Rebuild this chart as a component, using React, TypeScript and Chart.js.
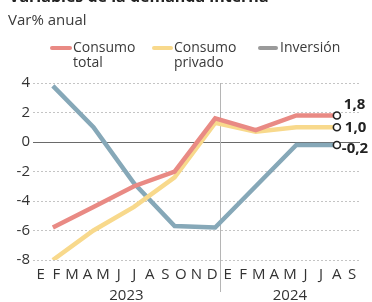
import React, { useEffect, useRef } from "react";
import { Chart, registerables } from "chart.js";

Chart.register(...registerables);

const titleText = "Variables de la demanda interna";
const subtitleText = "Var% anual";
const months = ["E", "F", "M", "A", "M", "J", "J", "A", "S", "O", "N", "D", "E", "F", "M", "A", "M", "J", "J", "A", "S"];
const years = ["2023", "2024"];
const yearSpans = [[0, 11], [12, 20]];
const quarterIndex = [0, 1, 2, 3, 4, 5, 6, 7];
const consumoTotal = [-5.8, -4.4, -3.0, -2.0, 1.6, 0.8, 1.8, 1.8];
const consumoPrivado = [-8.0, -6.0, -4.4, -2.4, 1.3, 0.7, 1.0, 1.0];
const inversion = [3.8, 1.0, -2.8, -5.7, -5.8, -3.0, -0.2, -0.2];
const seriesNames = ["Consumo\ntotal", "Consumo\nprivado", "Inversión"];
const endLabels = ["1,8", "1,0", "-0,2"];
const yTicks = [4, 2, 0, -2, -4, -6, -8];

const COLORS = ["#e98a84", "#f8d98c", "#86a8b8"];
const LEGEND_COLORS = ["#e98a84", "#f8d98c", "#9a9a9a"];
const FONT = "'Open Sans', 'Noto Sans', sans-serif";
const TEXT = "#333";

const endLabelOffsets = [
  { dx: 7, dy: -11 },
  { dx: 8, dy: 0 },
  { dx: 5, dy: 4 },
];

export default function App() {
  const ref = useRef<HTMLCanvasElement | null>(null);

  useEffect(() => {
    if (!ref.current) return;
    const series = [consumoTotal, consumoPrivado, inversion];

    const decor = {
      id: "decor",
      beforeDatasetsDraw(chart: any) {
        const ctx = chart.ctx;
        const xm = chart.scales.xMonths;
        const area = chart.chartArea;
        const sepX = (xm.getPixelForTick(11) + xm.getPixelForTick(12)) / 2;
        ctx.save();
        ctx.strokeStyle = "#b5b5b5";
        ctx.lineWidth = 1;
        ctx.beginPath();
        ctx.moveTo(Math.round(sepX) + 0.5, area.top);
        ctx.lineTo(Math.round(sepX) + 0.5, 292);
        ctx.stroke();
        ctx.restore();
      },
      afterDraw(chart: any) {
        const ctx = chart.ctx;
        const xm = chart.scales.xMonths;
        const xs = chart.scales.x;
        const ys = chart.scales.y;
        ctx.save();
        ctx.fillStyle = TEXT;
        ctx.font = `15px ${FONT}`;
        ctx.textAlign = "center";
        ctx.textBaseline = "middle";
        years.forEach((yr, i) => {
          const [a, b] = yearSpans[i];
          const cx = (xm.getPixelForTick(a) + xm.getPixelForTick(b)) / 2;
          ctx.fillText(yr, cx, 296);
        });
        ctx.font = `bold 15px ${FONT}`;
        ctx.textAlign = "left";
        ctx.fillStyle = "#222";
        series.forEach((s, i) => {
          const last = s.length - 1;
          const px = xs.getPixelForValue(quarterIndex[last]);
          const py = ys.getPixelForValue(s[last]);
          ctx.fillText(endLabels[i], px + endLabelOffsets[i].dx, py + endLabelOffsets[i].dy);
        });
        ctx.restore();
      },
    };

    const chart = new Chart(ref.current, {
      type: "line",
      data: {
        datasets: series.map((s, i) => ({
          label: seriesNames[i],
          data: s.map((v, j) => ({ x: quarterIndex[j], y: v })),
          borderColor: COLORS[i],
          borderWidth: 4.5,
          tension: 0,
          xAxisID: "x",
          yAxisID: "y",
          pointRadius: (c: any) => (c.dataIndex === s.length - 1 ? 3.5 : 0),
          pointHoverRadius: 0,
          pointBackgroundColor: "#ffffff",
          pointBorderColor: "#222",
          pointBorderWidth: 1.6,
          borderJoinStyle: "miter",
        })),
      },
      options: {
        animation: false,
        responsive: false,
        maintainAspectRatio: false,
        layout: { padding: { top: 83, right: 12, left: 0, bottom: 0 } },
        plugins: { legend: { display: false }, tooltip: { enabled: false }, title: { display: false } },
        scales: {
          x: {
            type: "linear",
            min: -0.49,
            max: 7.57,
            display: false,
          },
          xMonths: {
            type: "category",
            labels: months,
            position: "bottom",
            offset: true,
            grid: { display: false, drawTicks: false },
            border: { display: false },
            ticks: {
              autoSkip: false,
              maxRotation: 0,
              padding: 6,
              color: TEXT,
              font: { size: 15, family: FONT },
            },
            afterFit: (s: any) => {
              s.height = 42;
            },
          },
          y: {
            type: "linear",
            min: -8,
            max: 4,
            afterBuildTicks: (s: any) => {
              s.ticks = yTicks.map((v) => ({ value: v }));
            },
            ticks: {
              padding: 3,
              color: TEXT,
              font: { size: 15, family: FONT },
              callback: (v: any) => String(v),
            },
            grid: {
              drawTicks: false,
              color: (c: any) => (c.tick && c.tick.value === 0 ? "#6a6a6a" : "#c4c4c4"),
              lineWidth: 1,
            },
            border: {
              display: false,
              dash: (c: any) => (c.tick && c.tick.value === 0 ? [] : [2, 2]),
            },
            afterFit: (s: any) => {
              s.width = 33;
            },
          },
        },
      },
      plugins: [decor],
    } as any);
    return () => chart.destroy();
  }, []);

  const legendItems = [
    { seg: 50, w: 22, text: 73 },
    { seg: 152, w: 21, text: 174 },
    { seg: 258, w: 20, text: 280 },
  ];

  return (
    <div style={{ position: "absolute", left: 0, top: 0, width: 372, height: 302, overflow: "hidden", background: "#fff", fontFamily: FONT, color: TEXT }}>
      <canvas ref={ref} width={372} height={302} style={{ position: "absolute", left: 0, top: 0, width: 372, height: 302 }} />
      <div style={{ position: "absolute", left: 9, top: -14, fontSize: 16, fontWeight: 700, color: "#222", whiteSpace: "nowrap", lineHeight: "20px" }}>{titleText}</div>
      <div style={{ position: "absolute", left: 8, top: 9, fontSize: 15, whiteSpace: "nowrap", lineHeight: "20px", color: "#3a3a3a" }}>{subtitleText}</div>
      {legendItems.map((it, i) => (
        <React.Fragment key={i}>
          <div style={{ position: "absolute", left: it.seg, top: 46, width: it.w, height: 4, borderRadius: 2, background: LEGEND_COLORS[i] }} />
          <div style={{ position: "absolute", left: it.text, top: 39, fontSize: 14, lineHeight: "15px", whiteSpace: "pre", color: "#3a3a3a" }}>{seriesNames[i]}</div>
        </React.Fragment>
      ))}
    </div>
  );
}
